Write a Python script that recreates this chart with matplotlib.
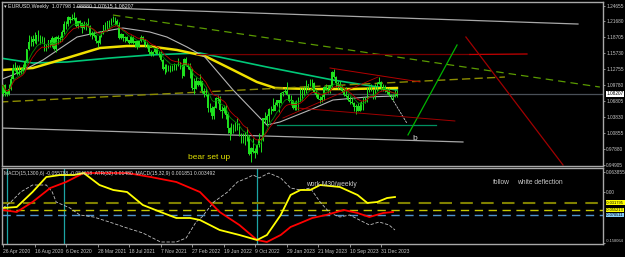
import numpy as np
import pandas as pd
import matplotlib
matplotlib.use('Agg')
import matplotlib.pyplot as plt

# weekly EURUSD, 26 Apr 2020 .. 25 Feb 2024
first_open = 1.0820
closes = [1.0980, 1.0840, 1.0820, 1.0900, 1.1100, 1.1290, 1.1260, 1.1180, 1.1220, 1.1245,
          1.1300, 1.1425, 1.1655, 1.1780, 1.1785, 1.1840, 1.1795, 1.1905, 1.1840, 1.1845,
          1.1840, 1.1630, 1.1715, 1.1825, 1.1720, 1.1860, 1.1645, 1.1875, 1.1835, 1.1855,
          1.1965, 1.2120, 1.2115, 1.2255, 1.2190, 1.2215, 1.2220, 1.2080, 1.2170, 1.2135,
          1.2045, 1.2120, 1.2120, 1.2075, 1.1915, 1.1950, 1.1905, 1.1795, 1.1760, 1.1900,
          1.1980, 1.2095, 1.2020, 1.2165, 1.2140, 1.2180, 1.2190, 1.2165, 1.2105, 1.1865,
          1.1935, 1.1865, 1.1875, 1.1810, 1.1770, 1.1870, 1.1760, 1.1795, 1.1700, 1.1795,
          1.1880, 1.1815, 1.1725, 1.1720, 1.1595, 1.1570, 1.1600, 1.1645, 1.1560, 1.1565,
          1.1445, 1.1290, 1.1320, 1.1315, 1.1315, 1.1240, 1.1325, 1.1370, 1.1360, 1.1410,
          1.1345, 1.1145, 1.1455, 1.1350, 1.1320, 1.1270, 1.0930, 1.0910, 1.1050, 1.0985,
          1.1050, 1.0875, 1.0810, 1.0790, 1.0545, 1.0550, 1.0410, 1.0560, 1.0735, 1.0720,
          1.0520, 1.0495, 1.0555, 1.0430, 1.0180, 1.0080, 1.0210, 1.0220, 1.0180, 1.0260,
          1.0035, 0.9965, 0.9955, 1.0040, 1.0015, 0.9690, 0.9800, 0.9740, 0.9720, 0.9860,
          0.9965, 0.9960, 1.0355, 1.0325, 1.0400, 1.0535, 1.0530, 1.0505, 1.0615, 1.0705,
          1.0645, 1.0830, 1.0855, 1.0870, 1.0795, 1.0680, 1.0695, 1.0545, 1.0635, 1.0640,
          1.0670, 1.0760, 1.0840, 1.0905, 1.0990, 1.0990, 1.1020, 1.1020, 1.0850, 1.0805,
          1.0720, 1.0710, 1.0750, 1.0940, 1.0895, 1.0910, 1.0970, 1.1230, 1.1125, 1.1015,
          1.1005, 1.0945, 1.0870, 1.0795, 1.0775, 1.0700, 1.0660, 1.0650, 1.0570, 1.0590,
          1.0505, 1.0595, 1.0565, 1.0730, 1.0685, 1.0915, 1.0940, 1.0885, 1.0760, 1.0895,
          1.1010, 1.1040, 1.0940, 1.0950, 1.0895, 1.0850, 1.0790, 1.0780, 1.0775, 1.07798,
          1.08207]
highs = [1.101, 1.100, 1.088, 1.101, 1.115, 1.138, 1.142, 1.135, 1.135, 1.130,
         1.137, 1.145, 1.166, 1.191, 1.190, 1.192, 1.197, 1.192, 1.201, 1.192,
         1.190, 1.187, 1.175, 1.183, 1.183, 1.189, 1.187, 1.189, 1.192, 1.189,
         1.200, 1.218, 1.217, 1.227, 1.225, 1.231, 1.235, 1.225, 1.218, 1.220,
         1.216, 1.217, 1.216, 1.224, 1.211, 1.199, 1.199, 1.192, 1.182, 1.192,
         1.199, 1.210, 1.215, 1.217, 1.219, 1.224, 1.227, 1.226, 1.222, 1.216,
         1.196, 1.194, 1.189, 1.189, 1.183, 1.191, 1.190, 1.180, 1.180, 1.180,
         1.191, 1.189, 1.185, 1.178, 1.173, 1.164, 1.162, 1.167, 1.169, 1.162,
         1.161, 1.147, 1.137, 1.138, 1.136, 1.136, 1.135, 1.139, 1.137, 1.148,
         1.142, 1.134, 1.148, 1.150, 1.139, 1.139, 1.124, 1.112, 1.114, 1.107,
         1.118, 1.105, 1.093, 1.094, 1.083, 1.064, 1.059, 1.060, 1.075, 1.079,
         1.077, 1.060, 1.061, 1.061, 1.047, 1.020, 1.028, 1.025, 1.029, 1.037,
         1.027, 1.009, 1.008, 1.011, 1.020, 1.005, 0.983, 0.999, 0.981, 0.988,
         1.009, 1.000, 1.037, 1.048, 1.045, 1.055, 1.059, 1.074, 1.066, 1.071,
         1.070, 1.086, 1.088, 1.093, 1.103, 1.081, 1.080, 1.071, 1.069, 1.070,
         1.076, 1.093, 1.092, 1.097, 1.108, 1.100, 1.109, 1.110, 1.103, 1.091,
         1.084, 1.078, 1.081, 1.097, 1.101, 1.098, 1.099, 1.125, 1.128, 1.115,
         1.105, 1.106, 1.098, 1.093, 1.095, 1.081, 1.077, 1.074, 1.066, 1.062,
         1.064, 1.067, 1.069, 1.075, 1.075, 1.092, 1.096, 1.101, 1.089, 1.100,
         1.104, 1.114, 1.105, 1.100, 1.099, 1.093, 1.093, 1.081, 1.081, 1.089,
         1.0888]
lows = [1.077, 1.078, 1.077, 1.080, 1.089, 1.110, 1.124, 1.117, 1.117, 1.118,
        1.120, 1.126, 1.141, 1.163, 1.171, 1.171, 1.176, 1.175, 1.180, 1.175,
        1.177, 1.162, 1.161, 1.168, 1.169, 1.169, 1.164, 1.160, 1.175, 1.179,
        1.181, 1.193, 1.202, 1.209, 1.213, 1.219, 1.220, 1.207, 1.205, 1.206,
        1.195, 1.203, 1.201, 1.207, 1.189, 1.184, 1.188, 1.176, 1.170, 1.174,
        1.187, 1.193, 1.200, 1.199, 1.205, 1.211, 1.215, 1.210, 1.209, 1.185,
        1.184, 1.180, 1.178, 1.180, 1.175, 1.176, 1.175, 1.170, 1.166, 1.169,
        1.179, 1.180, 1.170, 1.168, 1.156, 1.153, 1.152, 1.158, 1.156, 1.151,
        1.143, 1.126, 1.118, 1.122, 1.124, 1.122, 1.124, 1.127, 1.127, 1.134,
        1.129, 1.112, 1.115, 1.134, 1.128, 1.111, 1.089, 1.081, 1.090, 1.096,
        1.097, 1.084, 1.076, 1.077, 1.047, 1.048, 1.035, 1.035, 1.055, 1.064,
        1.050, 1.036, 1.046, 1.035, 1.009, 0.995, 1.006, 1.008, 1.012, 1.014,
        1.003, 0.990, 0.991, 0.986, 0.994, 0.967, 0.954, 0.972, 0.963, 0.970,
        0.983, 0.973, 0.994, 1.027, 1.022, 1.029, 1.044, 1.049, 1.057, 1.060,
        1.048, 1.064, 1.077, 1.083, 1.079, 1.066, 1.061, 1.053, 1.052, 1.052,
        1.052, 1.071, 1.071, 1.079, 1.083, 1.090, 1.096, 1.094, 1.084, 1.076,
        1.072, 1.064, 1.066, 1.070, 1.089, 1.084, 1.083, 1.095, 1.111, 1.094,
        1.091, 1.091, 1.086, 1.077, 1.076, 1.069, 1.063, 1.062, 1.049, 1.045,
        1.050, 1.050, 1.052, 1.052, 1.064, 1.066, 1.085, 1.087, 1.072, 1.072,
        1.088, 1.100, 1.089, 1.087, 1.085, 1.082, 1.078, 1.072, 1.070, 1.076,
        1.07615]

# slow moving averages: (bar, price)
ma_yellow = [(-0.5, 1.1263), (15.2, 1.1300), (32.5, 1.1487), (49.2, 1.1673), (62.9, 1.1710),
             (73.1, 1.1710), (88.3, 1.1636), (102.5, 1.1524), (116.8, 1.1263), (128.9, 1.1039),
             (138.1, 1.0927), (155.8, 1.0908), (176.1, 1.0908), (200, 1.0927)]
ma_green = [(-1.5, 1.1486), (15.2, 1.1393), (32.5, 1.1412), (54.3, 1.1486), (74.6, 1.1543),
            (100, 1.1580), (134, 1.1318), (167.5, 1.1076), (200, 1.0890)]
ma_gray = [(-1.5, 1.1076), (8.6, 1.1225), (20.3, 1.1449), (37.6, 1.1878), (49.2, 1.1971),
           (60.9, 1.2046), (74.6, 1.1971), (83.2, 1.1878), (93.4, 1.1692), (102.5, 1.1505),
           (116.8, 1.0890), (130.5, 1.0367), (134, 1.0237), (140.6, 1.0293), (155.8, 1.0517),
           (167.5, 1.0703), (184.8, 1.0759), (199, 1.0778)]

# drawn objects: ((bar, price), (bar, price))
gray_top = [(37.6, 1.2438), (291.9, 1.2120)]
gray_low = [(-1.5, 1.0181), (233.5, 0.9920)]
lime_dash = [(55.8, 1.2288), (303, 1.0945)]
olive_dash = [(-1.5, 1.0666), (254.8, 1.1132)]
red_level = [(98.5, 1.1550), (237, 1.1552)]
red_level2 = [(237, 1.1552), (266, 1.1561)]
green_level = [(139, 1.0235), (220, 1.0235)]
green_proj = [(205.6, 1.0052), (230.5, 1.1729)]
red_proj = [(235, 1.1878), (284.3, 0.9491)]
red_upper = [(166, 1.1300), (211.7, 1.1040)]
red_lower = [(149.2, 1.0554), (229.4, 1.0312)]
red_rise = [(142.1, 1.0367), (190.4, 1.1132)]
white_leg = [(196.4, 1.0796), (205, 1.0274)]

price_ticks = [1.24655, 1.21680, 1.18705, 1.15730, 1.12755, 1.09780,
               1.06805, 1.03830, 1.00855, 0.97880, 0.94905]

# lower window
macd_main = [(0, -0.0487), (7, -0.0455), (15, 0.0013), (22, 0.0482), (29, 0.0545), (36, 0.0545),
             (41, 0.0607), (49, 0.0232), (56, 0.0076), (63, 0.0013), (71, -0.0393), (80, -0.0612),
             (88, -0.0799), (95, -0.0799), (100, -0.0862), (110, -0.1174), (120, -0.1330),
             (129, -0.1487), (134, -0.1330), (141, -0.0705), (146, -0.0080), (151, 0.0076),
             (156, 0.0076), (161, 0.0232), (171, 0.0170), (180, -0.0080), (185, -0.0330),
             (190, -0.0299), (195, -0.0174), (199, -0.0143)]
macd_signal = [(0, -0.0549), (7, -0.0612), (15, -0.0299), (24, 0.0138), (32, 0.0326), (41, 0.0607),
               (49, 0.0607), (63, 0.0607), (75, 0.0482), (88, 0.0326), (100, 0.0013), (105, -0.0299),
               (110, -0.0612), (120, -0.1018), (129, -0.1487), (134, -0.1549), (141, -0.1330),
               (146, -0.1080), (151, -0.0955), (157, -0.0799), (164, -0.0705), (173, -0.0549),
               (180, -0.0643), (186, -0.0768), (193, -0.0643), (198, -0.0612)]
atr_line = [(0, -0.0487), (4, -0.0299), (9, 0.0013), (15, 0.0232), (22, 0.0232), (25, 0.0013),
            (27, -0.0299), (34, -0.0487), (39, -0.0705), (46, -0.0768), (54, -0.0924),
            (63, -0.1112), (71, -0.1268), (80, -0.1549), (88, -0.1549), (93, -0.1424),
            (98, -0.0924), (101, -0.0768), (107, -0.0299), (114, 0.0013), (119, 0.0326),
            (124, 0.0451), (127, 0.0545), (130, 0.0451), (135, 0.0607), (141, 0.0451),
            (146, 0.0138), (151, 0.0076), (156, 0.0138), (161, -0.0299), (166, -0.0643),
            (171, -0.0768), (176, -0.0705), (181, -0.0862), (186, -0.1018), (191, -0.0924),
            (196, -0.1018), (199, -0.1174)]
levels = [-0.031795, -0.055213, -0.070511]
vlines_at = [2, 31, 129]

date_ticks = list(range(0, 193, 16))
date_labels = ['26 Apr 2020', '16 Aug 2020', '6 Dec 2020', '28 Mar 2021', '18 Jul 2021',
               '7 Nov 2021', '27 Feb 2022', '19 Jun 2022', '9 Oct 2022', '29 Jan 2023',
               '21 May 2023', '10 Sep 2023', '31 Dec 2023']

plt.rcParams['font.family'] = ['Liberation Sans', 'DejaVu Sans']
W, H = 625, 257
fig = plt.figure(figsize=(W / 100, H / 100), dpi=100, facecolor='black')
ax = fig.add_axes([2 / W, 1 - 166 / H, 601 / W, 164 / H], facecolor='black')
ax2 = fig.add_axes([2 / W, 1 - 244 / H, 601 / W, 76 / H], facecolor='black', sharex=ax)

n = len(closes)
x = np.arange(n)
c = np.array(closes)
o = np.array([first_open] + closes[:-1])

def seg(a, pts, **kw):
    xs, ys = zip(*pts)
    a.plot(xs, ys, **kw)

# slow MAs under candles
seg(ax, ma_green, color='#00c878', lw=1.2, zorder=2)
seg(ax, ma_yellow, color='#f0e000', lw=1.8, zorder=2)
seg(ax, ma_gray, color='#b4b4b4', lw=0.8, zorder=2)

# candles
ax.vlines(x, lows, highs, color='#1ee01e', lw=0.7, zorder=3)
ax.bar(x, np.abs(c - o) + 0.0004, bottom=np.minimum(o, c), width=0.75,
       color='#1ee01e', zorder=3)

# fast averages
s = pd.Series(closes)
ax.plot(x, s.ewm(span=8).mean(), color='#008c00', lw=0.6, zorder=4)
ax.plot(x, s.ewm(span=13).mean(), color='#c00000', lw=0.6, zorder=4)

# objects
seg(ax, gray_top, color='#a8a8a8', lw=0.9)
seg(ax, gray_low, color='#a8a8a8', lw=0.9)
seg(ax, lime_dash, color='#5a9a00', lw=0.9, dashes=(6, 4))
seg(ax, olive_dash, color='#8c8c00', lw=1.0, dashes=(6, 3))
seg(ax, red_level, color='#7a0000', lw=0.9)
seg(ax, red_level2, color='#c80000', lw=0.9)
seg(ax, green_level, color='#009060', lw=0.9)
seg(ax, green_proj, color='#00b400', lw=0.9)
seg(ax, red_proj, color='#a00000', lw=0.9)
seg(ax, red_upper, color='#b40000', lw=0.7, zorder=5)
seg(ax, red_lower, color='#a00000', lw=0.7, zorder=5)
seg(ax, red_rise, color='#b40000', lw=0.6, zorder=5)
seg(ax, white_leg, color='#c8c8c8', lw=0.6, dashes=(3, 1))
ax.axhline(closes[-1], color='#4a5058', lw=0.9, zorder=1)

ax.text(0.004, 0.988, '\u25be EURUSD,Weekly  %.5f %.5f %.5f %.5f' % (o[-1], highs[-1], lows[-1], closes[-1]),
        transform=ax.transAxes, va='top', ha='left', fontsize=3.8, color='#e8e8e8')
ax.text(93.9, 0.9640, 'bear set up', color='#e0e000', fontsize=6, va='center', ha='left')
ax.text(207.6, 0.9976, 'b', color='#d8d8d8', fontsize=6, va='center', ha='left')

ax.set_xlim(-0.5, 304.6)
ax.set_ylim(0.94722, 1.25308)
ax.set_yticks(price_ticks)
ax.set_yticklabels(['%.5f' % v for v in price_ticks])
ax.text(1.0055, closes[-1], '%.5f' % closes[-1], transform=ax.get_yaxis_transform(),
        fontsize=3.4, color='black', va='center', ha='left',
        bbox=dict(facecolor='white', edgecolor='none', pad=0.4))

# lower window
for b in vlines_at:
    ax2.axvline(b, color='#1ca5a5', lw=0.9)
ax2.axhline(levels[0], color='#808000', lw=1.5, dashes=(6, 4))
ax2.axhline(levels[1], color='#c8c800', lw=1.0, dashes=(6, 4))
ax2.axhline(levels[2], color='#4f94cd', lw=1.0, dashes=(6, 4))
seg(ax2, atr_line, color='#c0c0c0', lw=0.6, dashes=(4, 2))
seg(ax2, macd_signal, color='#ff0000', lw=1.3)
seg(ax2, macd_main, color='#ffff00', lw=1.3)

ax2.text(0.003, 0.965, 'MACD(15,1300,6) -0.055788 -0.054618  ATR(32) 0.01480  MACD(15,32,9) 0.001851 0.003492',
         transform=ax2.transAxes, va='top', ha='left', fontsize=3.6, color='#d8d8d8')
ax2.text(153.8, 0.0263, 'work M30/weekly', color='#c8c8c8', fontsize=4.8, va='center', ha='left')
ax2.text(248.7, 0.0326, 'follow', color='#c8c8c8', fontsize=4.8, va='center', ha='left')
ax2.text(260.9, 0.0326, 'white deflection', color='#c8c8c8', fontsize=4.8, va='center', ha='left')

ax2.set_ylim(-0.16119, 0.07636)
ax2.set_yticks([0.063855, 0.0, -0.158064])
ax2.set_yticklabels(['0.063855', '0.00', '-0.158064'])
box_colors = ['#ffff00', '#ffff00', '#87cefa']
for lv, bc in zip(levels, box_colors):
    ax2.text(1.0055, lv, '%.6f' % lv, transform=ax2.get_yaxis_transform(), fontsize=2.9,
             color='black', va='center', ha='left',
             bbox=dict(facecolor=bc, edgecolor='none', pad=0.3))

ax2.set_xticks(date_ticks)
ax2.set_xticklabels(date_labels)
for lab in ax2.get_xticklabels():
    lab.set_horizontalalignment('left')

for a in (ax, ax2):
    for sp in a.spines.values():
        sp.set_color('#a8a8a8')
        sp.set_linewidth(1.0)
    a.yaxis.tick_right()
    a.tick_params(axis='y', colors='#c8c8c8', labelsize=3.4, length=1.5, width=0.5, pad=0.8)
ax.tick_params(axis='x', bottom=False, labelbottom=False)
ax2.tick_params(axis='x', colors='#c8c8c8', labelsize=3.6, length=2, width=0.5, pad=1.5)
ax2.get_yticklabels()[-1].set_fontsize(2.9)
ax2.get_yticklabels()[-1].set_verticalalignment('bottom')

fig.savefig('out.png', dpi=100, facecolor='black')
